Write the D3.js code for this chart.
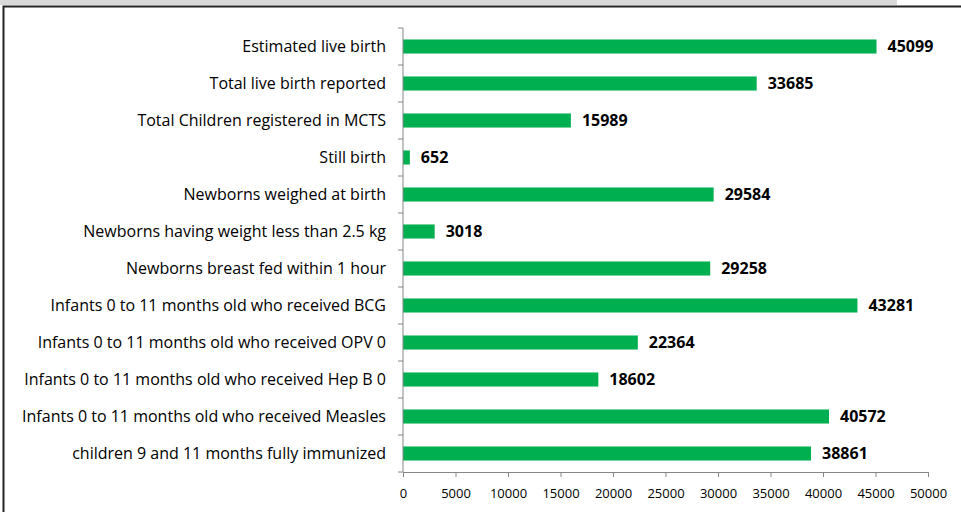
<!DOCTYPE html>
<html><head><meta charset="utf-8">
<script src="https://cdn.jsdelivr.net/npm/d3@7"></script>
<style>body{margin:0;background:#fff}svg{display:block}</style>
</head><body>
<script>
const categories = [
  "Estimated live birth",
  "Total live birth reported",
  "Total Children registered in MCTS",
  "Still birth",
  "Newborns weighed at birth",
  "Newborns having weight less than 2.5 kg",
  "Newborns breast fed within 1 hour",
  "Infants 0 to 11 months old who received BCG",
  "Infants 0 to 11 months old who received OPV 0",
  "Infants 0 to 11 months old who received Hep B 0",
  "Infants 0 to 11 months old who received Measles",
  "children 9 and 11 months fully immunized"
];
const values = [45099, 33685, 15989, 652, 29584, 3018, 29258, 43281, 22364, 18602, 40572, 38861];
const xTicks = [0,5000,10000,15000,20000,25000,30000,35000,40000,45000,50000];

const W = 961, H = 512;
const svg = d3.select("body").append("svg").attr("width", W).attr("height", H);

// top grey band and frame
svg.append("rect").attr("x",0).attr("y",0).attr("width",897).attr("height",5).attr("fill","#d9d9d9");
svg.append("path").attr("d","M3.5,512 V6.5 H961").attr("fill","none").attr("stroke","#222").attr("stroke-width",2);

const x = d3.scaleLinear().domain([0,50000]).range([403,928]);
const y = d3.scaleBand().domain(categories).range([28,472]).paddingInner(0.62).paddingOuter(0.31);
const yb = d3.scaleBand().domain(categories).range([28,472]);

const font = "'Open Sans', sans-serif";

// bars
svg.append("g").selectAll("rect").data(values).join("rect")
  .attr("x", x(0)).attr("y",(d,i)=>y(categories[i]))
  .attr("width",d=>x(d)-x(0)).attr("height",y.bandwidth())
  .attr("fill","#00b050");

// value labels
svg.append("g").selectAll("text").data(values).join("text")
  .attr("x",d=>x(d)+11).attr("y",(d,i)=>y(categories[i])+y.bandwidth()/2)
  .attr("dy","0.35em").attr("font-family",font).attr("font-weight","bold")
  .attr("font-size",16).attr("fill","#000").text(d=>d);

// y axis
const yAxis = svg.append("g").attr("transform",`translate(${x(0)},0)`);
yAxis.append("line").attr("x1",0).attr("x2",0).attr("y1",28).attr("y2",472).attr("stroke","#868686");
const bounds = categories.map(c=>yb(c)).concat([472]);
yAxis.selectAll("line.tk").data(bounds).join("line").attr("class","tk")
  .attr("x1",-5).attr("x2",0).attr("y1",d=>d).attr("y2",d=>d).attr("stroke","#868686");
yAxis.selectAll("text").data(categories).join("text")
  .attr("x",-17).attr("y",d=>yb(d)+yb.bandwidth()/2).attr("dy","0.35em")
  .attr("text-anchor","end").attr("font-family",font).attr("font-size",16).attr("fill","#000")
  .text(d=>d);

// x axis
const xAxis = svg.append("g").attr("transform","translate(0,472)")
  .call(d3.axisBottom(x).tickValues(xTicks).tickSize(5).tickSizeOuter(0).tickPadding(12).tickFormat(d3.format("d")));
xAxis.select(".domain").attr("stroke","#868686");
xAxis.selectAll(".tick line").attr("stroke","#868686");
xAxis.selectAll("text").attr("font-family",font).attr("font-size",13).attr("fill","#000");
</script>
</body></html>
